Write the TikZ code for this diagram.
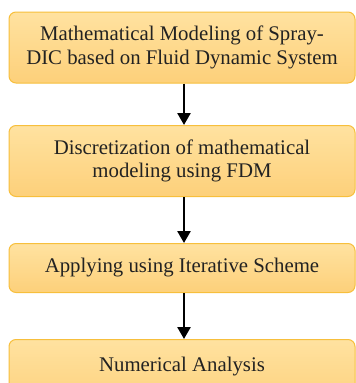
\documentclass[tikz,border=0pt]{standalone}
\usepackage{fontspec}
\setmainfont{Liberation Serif}
\usetikzlibrary{arrows.meta}
\definecolor{boxtop}{HTML}{FFE2A0}
\definecolor{boxbot}{HTML}{FDD07A}
\definecolor{boxline}{HTML}{F7BF3C}
\definecolor{txt}{HTML}{222222}
\tikzset{
  stagebox/.style={draw=boxline, line width=1pt, rounded corners=7pt,
    top color=boxtop, bottom color=boxbot, text=txt,
    align=center, font=\fontsize{20.8}{23.5}\selectfont, inner sep=0pt},
  flowarrow/.style={-{Triangle[length=12pt,width=13pt]}, line width=2.6pt, black}
}
\begin{document}
\begin{tikzpicture}[x=1pt,y=-1pt]
\useasboundingbox (0,0) rectangle (356,383);
\node[stagebox, minimum width=346pt, minimum height=71pt] (b1) at (182,47.5)
  {Mathematical Modeling of Spray-\\DIC based on Fluid Dynamic System};
\node[stagebox, minimum width=346pt, minimum height=71pt] (b2) at (182,161)
  {Discretization of mathematical\\modeling using FDM};
\node[stagebox, minimum width=346pt, minimum height=49pt] (b3) at (182,268)
  {Applying using Iterative Scheme};
\node[stagebox, minimum width=346pt, minimum height=70pt, anchor=north,
  text depth=36pt, text height=29pt] (b4) at (182,339)
  {Numerical Analysis};
\draw[flowarrow] ([xshift=2pt]b1.south) -- ([xshift=2pt]b2.north);
\draw[flowarrow] ([xshift=2pt]b2.south) -- ([xshift=2pt]b3.north);
\draw[flowarrow] ([xshift=2pt]b3.south) -- ([xshift=2pt]b4.north);
\end{tikzpicture}
\end{document}
